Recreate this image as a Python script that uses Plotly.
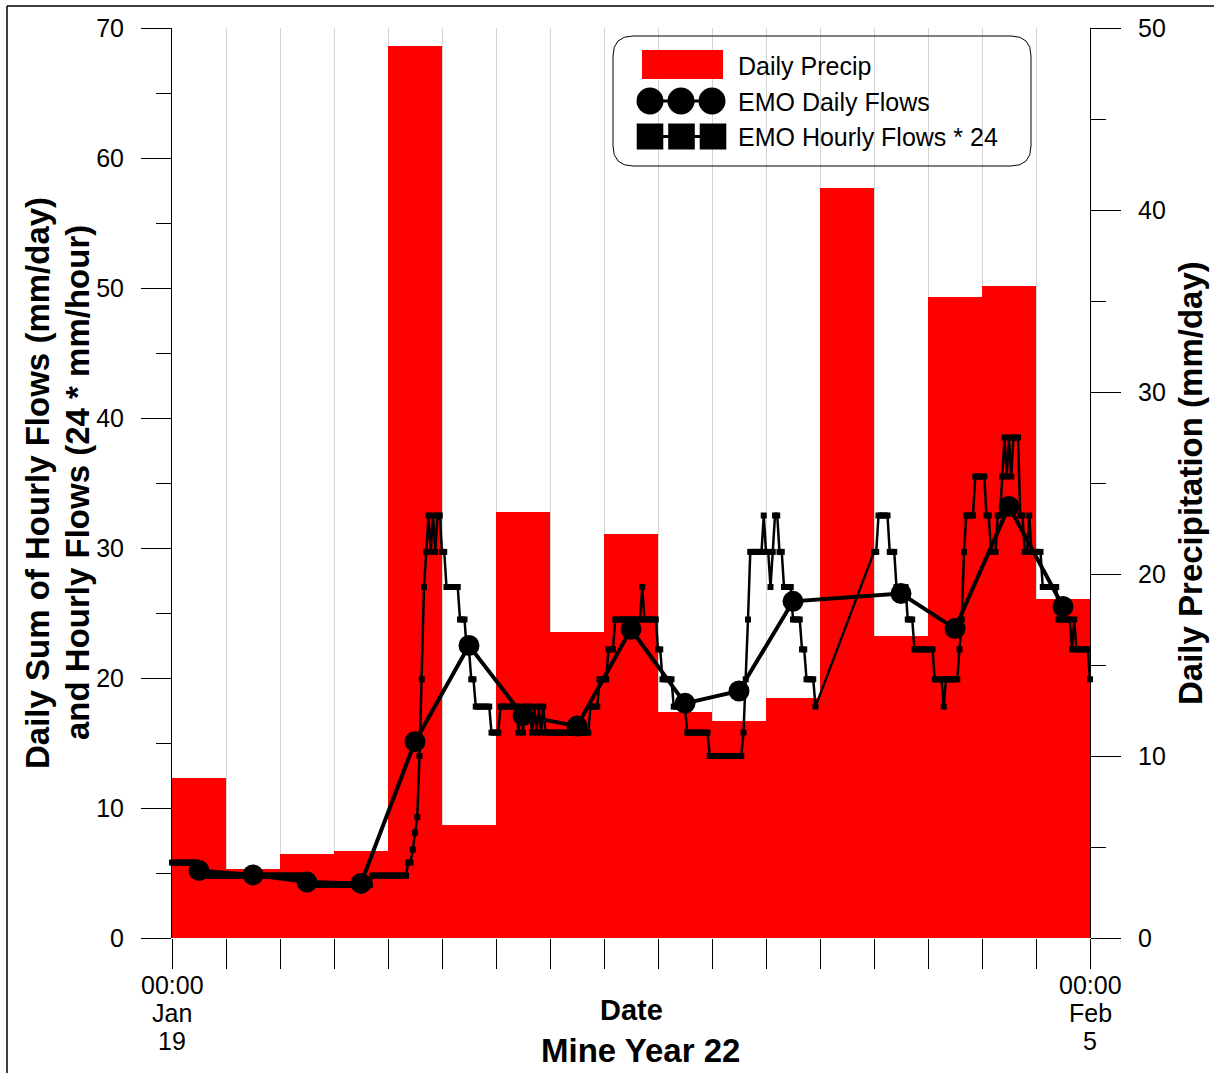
import pandas as pd
import plotly.graph_objects as go

# ---- data -------------------------------------------------------------
day_start = pd.Timestamp("2022-01-19")
n_days = 17

# Daily precipitation (mm/day), Jan 19 .. Feb 4
precip = [8.8, 3.8, 4.6, 4.8, 49.0, 6.2, 23.4, 16.8, 22.2, 12.4, 11.9, 13.2,
          41.2, 16.6, 35.2, 35.8, 18.6]

# EMO daily flows (mm/day); Jan 31 has no value
daily_flow = [5.2, 4.85, 4.3, 4.2, 15.1, 22.5, 17.1, 16.3, 23.75, 18.05, 19.0,
              25.9, None, 26.5, 23.8, 33.2, 25.5]

# EMO hourly flows * 24, one row of 24 readings per day (None = missing)
hourly_jan19 = [5.8, 5.8, 5.8, 5.8, 5.8, 5.8, 5.8, 5.8, 5.8, 5.8, 5.8, 5.8,
                4.8, 4.8, 4.8, 4.8, 4.8, 4.8, 4.8, 4.8, 4.8, 4.8, 4.8, 4.8]
hourly_jan20 = [4.8, 4.8, 4.8, 4.8, 4.8, 4.8, 4.8, 4.8, 4.8, 4.8, 4.8, 4.8,
                4.8, 4.8, 4.8, 4.8, 4.8, 4.8, 4.8, 4.8, 4.8, 4.8, 4.8, 4.8]
hourly_jan21 = [4.8, 4.8, 4.8, 4.8, 4.8, 4.8, 4.8, 4.8, 4.8, 4.8, 4.8, 4.8,
                4.1, 4.1, 4.1, 4.1, 4.1, 4.1, 4.1, 4.1, 4.1, 4.1, 4.1, 4.1]
hourly_jan22 = [4.1, 4.1, 4.1, 4.1, 4.1, 4.1, 4.1, 4.1, 4.1, 4.1, 4.1, 4.1,
                4.1, 4.1, 4.1, 4.1, 4.1, 4.8, 4.8, 4.8, 4.8, 4.8, 4.8, 4.8]
hourly_jan23 = [4.8, 4.8, 4.8, 4.8, 4.8, 4.8, 4.8, 4.8, 4.8, 5.8, 5.8, 6.8,
                8.1, 9.3, 14.0, 19.9, 27.0, 29.7, 32.5, 29.7, 32.5, 29.7, 32.5, 32.5]
hourly_jan24 = [29.7, 29.7, 27.0, 27.0, 27.0, 27.0, 27.0, 27.0, 24.5, 24.5, 24.5, 22.2,
                22.2, 19.9, 19.9, 17.8, 17.8, 17.8, 17.8, 17.8, 17.8, 17.8, 15.8, 15.8]
hourly_jan25 = [15.8, 15.8, 17.8, 17.8, 17.8, 17.8, 17.8, 17.8, 17.8, 17.8, 15.8, 17.8,
                15.8, 17.8, 17.8, 17.8, 15.8, 17.8, 15.8, 17.8, 15.8, 17.8, 15.8, 15.8]
hourly_jan26 = [15.8, 15.8, 15.8, 15.8, 15.8, 15.8, 15.8, 15.8, 15.8, 15.8, 15.8, 15.8,
                15.8, 15.8, 15.8, 15.8, 15.8, 15.8, 17.8, 17.8, 17.8, 17.8, 19.9, 19.9]
hourly_jan27 = [19.9, 19.9, 22.2, 22.2, 22.2, 24.5, 24.5, 24.5, 24.5, 24.5, 24.5, 24.5,
                24.5, 24.5, 24.5, 24.5, 24.5, 27.0, 24.5, 24.5, 24.5, 24.5, 24.5, 24.5]
hourly_jan28 = [22.2, 22.2, 19.9, 19.9, 19.9, 19.9, 19.9, 17.8, 17.8, 17.8, 17.8, 17.8,
                17.8, 15.8, 15.8, 15.8, 15.8, 15.8, 15.8, 15.8, 15.8, 15.8, 15.8, 14.0]
hourly_jan29 = [14.0, 14.0, 14.0, 14.0, 14.0, 14.0, 14.0, 14.0, 14.0, 14.0, 14.0, 14.0,
                14.0, 14.0, 15.8, 19.9, 24.5, 29.7, 29.7, 29.7, 29.7, 29.7, 29.7, 32.5]
hourly_jan30 = [29.7, 29.7, 27.0, 29.7, 32.5, 32.5, 29.7, 29.7, 27.0, 27.0, 27.0, 27.0,
                24.5, 24.5, 24.5, 24.5, 22.2, 22.2, 19.9, 19.9, 19.9, 19.9, 17.8, None]
hourly_jan31 = [None] * 24
hourly_feb01 = [29.7, 29.7, 32.5, 32.5, 32.5, 32.5, 32.5, 29.7, 29.7, 29.7, 27.0, 27.0,
                27.0, 27.0, 27.0, 24.5, 24.5, 24.5, 22.2, 22.2, 22.2, 22.2, 22.2, 22.2]
hourly_feb02 = [22.2, 22.2, 22.2, 19.9, 19.9, 19.9, 19.9, 17.8, 19.9, 19.9, 19.9, 19.9,
                19.9, 19.9, 22.2, 24.5, 29.7, 32.5, 32.5, 32.5, 32.5, 35.5, 35.5, 35.5]
hourly_feb03 = [35.5, 35.5, 32.5, 32.5, 29.7, 29.7, 29.7, 32.5, 32.5, 35.5, 38.5, 35.5,
                38.5, 35.5, 38.5, 38.5, 38.5, 32.5, 32.5, 29.7, 29.7, 32.5, 29.7, 29.7]
hourly_feb04 = [29.7, 29.7, 29.7, 27.0, 27.0, 27.0, 27.0, 27.0, 27.0, 27.0, 24.5, 24.5,
                24.5, 24.5, 24.5, 24.5, 22.2, 24.5, 22.2, 22.2, 22.2, 22.2, 22.2, 22.2]
hourly_feb05 = [19.9]  # closing midnight reading

hourly_rows = [hourly_jan19, hourly_jan20, hourly_jan21, hourly_jan22, hourly_jan23,
               hourly_jan24, hourly_jan25, hourly_jan26, hourly_jan27, hourly_jan28,
               hourly_jan29, hourly_jan30, hourly_jan31, hourly_feb01, hourly_feb02,
               hourly_feb03, hourly_feb04, hourly_feb05]

# ---- derived series ---------------------------------------------------
days = pd.date_range(day_start, periods=n_days, freq="D")
noon = days + pd.Timedelta(hours=12)
day_edges = pd.date_range(day_start, periods=n_days + 1, freq="D")

hourly_vals = [v for row in hourly_rows for v in row]
hourly_time = [day_start + pd.Timedelta(hours=i) for i in range(len(hourly_vals))]
hx = [t for t, v in zip(hourly_time, hourly_vals) if v is not None]
hy = [v for v in hourly_vals if v is not None]

dx = [t for t, v in zip(noon, daily_flow) if v is not None]
dy = [v for v in daily_flow if v is not None]

# ---- figure -----------------------------------------------------------
FONT = "Liberation Sans, Arial, sans-serif"
L, R, T, B = 172, 124, 28, 135
W, H = 1214, 1073
PW, PH = W - L - R, H - T - B


def px(xp):
    return (xp - L) / PW


def py(yp):
    return (H - B - yp) / PH


fig = go.Figure()

fig.add_trace(go.Bar(
    x=noon, y=precip, width=86400000, yaxis="y",
    marker=dict(color="#ff0000", line=dict(width=0)), name="Daily Precip",
))
fig.add_trace(go.Scatter(
    x=hx, y=hy, yaxis="y2", mode="lines+markers", name="EMO Hourly Flows * 24",
    line=dict(color="black", width=2.5),
    marker=dict(symbol="square", size=6, color="black"),
    cliponaxis=False,
))
fig.add_trace(go.Scatter(
    x=dx, y=dy, yaxis="y2", mode="lines+markers", name="EMO Daily Flows",
    line=dict(color="black", width=4),
    marker=dict(symbol="circle", size=21, color="black"),
    cliponaxis=False,
))

axis_common = dict(
    ticks="outside", ticklen=30, tickwidth=1, tickcolor="black",
    showline=True, linecolor="black", linewidth=1,
    showgrid=False, zeroline=False, dtick=10, tick0=0,
    tickfont=dict(family=FONT, size=25, color="black"),
    minor=dict(dtick=5, ticks="outside", ticklen=15, tickcolor="black", tickwidth=1),
    ticklabelstandoff=12,
)

fig.update_layout(
    width=W, height=H,
    margin=dict(l=L, r=R, t=T, b=B, pad=0),
    plot_bgcolor="white", paper_bgcolor="white",
    showlegend=False, bargap=0,
    font=dict(family=FONT, size=25, color="black"),
    xaxis=dict(
        type="date", range=[day_edges[0], day_edges[-1]],
        tickvals=list(day_edges), ticktext=[""] * len(day_edges),
        ticks="outside", ticklen=30, tickwidth=1, tickcolor="black",
        showgrid=True, gridcolor="#d4d4d4", gridwidth=1,
        showline=False, zeroline=False,
    ),
    yaxis=dict(side="right", range=[0, 50], **axis_common),
    yaxis2=dict(side="left", overlaying="y", range=[0, 70], **axis_common),
)

ann = []
# x tick labels at the two ends of the date range
for t, lines in [(day_edges[0], ["00:00", "Jan", "19"]), (day_edges[-1], ["00:00", "Feb", "5"])]:
    for txt, yp in zip(lines, [985, 1013, 1041]):
        ann.append(dict(x=t, xref="x", y=py(yp), yref="paper", text=txt, showarrow=False,
                        xanchor="center", yanchor="middle",
                        font=dict(family=FONT, size=25, color="black")))

# axis titles
ann.append(dict(x=px(631), y=py(1010), xref="paper", yref="paper", text="<b>Date</b>",
                showarrow=False, xanchor="center", yanchor="middle",
                font=dict(family=FONT, size=29, color="black")))
ann.append(dict(x=px(640), y=py(1050), xref="paper", yref="paper", text="<b>Mine Year 22</b>",
                showarrow=False, xanchor="center", yanchor="middle",
                font=dict(family=FONT, size=33, color="black")))
ann.append(dict(x=px(37), y=0.5, xref="paper", yref="paper",
                text="<b>Daily Sum of Hourly Flows (mm/day)</b>", textangle=-90,
                showarrow=False, xanchor="center", yanchor="middle",
                font=dict(family=FONT, size=33, color="black")))
ann.append(dict(x=px(77), y=0.5, xref="paper", yref="paper",
                text="<b>and Hourly Flows (24 * mm/hour)</b>", textangle=-90,
                showarrow=False, xanchor="center", yanchor="middle",
                font=dict(family=FONT, size=33, color="black")))
ann.append(dict(x=px(1190), y=0.5, xref="paper", yref="paper",
                text="<b>Daily Precipitation (mm/day)</b>", textangle=-90,
                showarrow=False, xanchor="center", yanchor="middle",
                font=dict(family=FONT, size=33, color="black")))

# legend labels
for txt, yp in [("Daily Precip", 66), ("EMO Daily Flows", 101.5), ("EMO Hourly Flows * 24", 136.5)]:
    ann.append(dict(x=px(736), y=py(yp), xref="paper", yref="paper", text=txt,
                    showarrow=False, xanchor="left", yanchor="middle",
                    font=dict(family=FONT, size=25, color="black")))

shapes = []


def rounded_box(x0, y0, x1, y1, r):
    pts = [
        f"M {px(x0 + r)},{py(y0)}",
        f"L {px(x1 - r)},{py(y0)}",
        f"Q {px(x1)},{py(y0)} {px(x1)},{py(y0 + r)}",
        f"L {px(x1)},{py(y1 - r)}",
        f"Q {px(x1)},{py(y1)} {px(x1 - r)},{py(y1)}",
        f"L {px(x0 + r)},{py(y1)}",
        f"Q {px(x0)},{py(y1)} {px(x0)},{py(y1 - r)}",
        f"L {px(x0)},{py(y0 + r)}",
        f"Q {px(x0)},{py(y0)} {px(x0 + r)},{py(y0)}",
        "Z",
    ]
    return " ".join(pts)


shapes.append(dict(type="path", xref="paper", yref="paper",
                   path=rounded_box(613, 36, 1031, 166, 20),
                   line=dict(color="black", width=1), fillcolor="rgba(0,0,0,0)", layer="above"))
# legend key: precip patch
shapes.append(dict(type="rect", xref="paper", yref="paper",
                   x0=px(642), x1=px(723), y0=py(50), y1=py(79),
                   line=dict(width=0), fillcolor="#ff0000", layer="above"))
# legend key: daily flows
shapes.append(dict(type="line", xref="paper", yref="paper",
                   x0=px(650), x1=px(712), y0=py(101), y1=py(101),
                   line=dict(color="black", width=3), layer="above"))
for cx in [650, 681, 712]:
    shapes.append(dict(type="circle", xref="paper", yref="paper",
                       x0=px(cx - 13.5), x1=px(cx + 13.5), y0=py(101 - 13.5), y1=py(101 + 13.5),
                       line=dict(width=0), fillcolor="black", layer="above"))
# legend key: hourly flows
shapes.append(dict(type="line", xref="paper", yref="paper",
                   x0=px(650), x1=px(713), y0=py(136.5), y1=py(136.5),
                   line=dict(color="black", width=3), layer="above"))
for sx in [650, 681.5, 713]:
    shapes.append(dict(type="rect", xref="paper", yref="paper",
                       x0=px(sx - 13.3), x1=px(sx + 13.3), y0=py(136.5 - 13), y1=py(136.5 + 13),
                       line=dict(width=0), fillcolor="black", layer="above"))

# outer frame edges
shapes.append(dict(type="line", xref="paper", yref="paper",
                   x0=px(7), x1=px(W), y0=py(6), y1=py(6),
                   line=dict(color="black", width=1.5), layer="above"))
shapes.append(dict(type="line", xref="paper", yref="paper",
                   x0=px(7), x1=px(7), y0=py(6), y1=py(H),
                   line=dict(color="black", width=1.5), layer="above"))

fig.update_layout(annotations=ann, shapes=shapes)

fig.write_html("out.html")
